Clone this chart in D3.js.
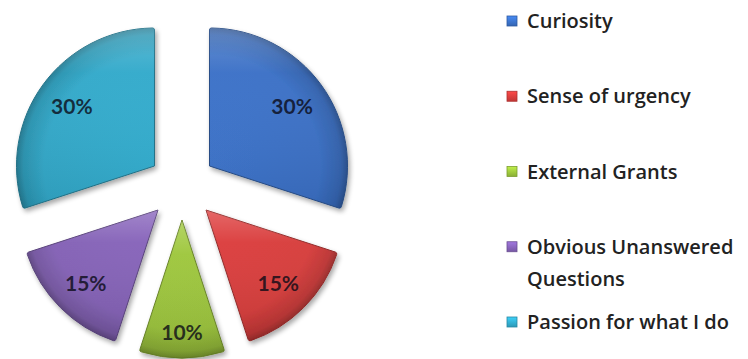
<!DOCTYPE html>
<html>
<head>
<meta charset="utf-8">
<script src="https://cdn.jsdelivr.net/npm/d3@7"></script>
<style>
  html, body { margin: 0; padding: 0; background: #ffffff; }
  svg { display: block; }
</style>
</head>
<body>
<svg id="chart" width="748" height="359"></svg>
<script>
// Share of answers per motivation (percent)
const categories = ["Curiosity", "Sense of urgency", "External Grants", "Obvious Unanswered Questions", "Passion for what I do"];
const values = [30, 15, 10, 15, 30];
const legendLines = [["Curiosity"], ["Sense of urgency"], ["External Grants"], ["Obvious Unanswered", "Questions"], ["Passion for what I do"]];
const baseColors = ["#3a70c6", "#d63c3b", "#9ac23b", "#8361b5", "#31a9ca"];

const svg = d3.select("#chart");

const cx = 182, cy = 186;       // pie centre
const radius = 138;
const explode = 34;            // every slice pulled out from the centre

const total = d3.sum(values);
const pct = d3.format(".0%");

const color = d3.scaleOrdinal().domain(categories).range(baseColors);

const defs = svg.append("defs");

// soft drop shadow under each slice
const shadow = defs.append("filter").attr("id", "shadow")
  .attr("x", "-20%").attr("y", "-20%").attr("width", "140%").attr("height", "140%");
shadow.append("feGaussianBlur").attr("in", "SourceAlpha").attr("stdDeviation", 2.5).attr("result", "blur");
shadow.append("feOffset").attr("in", "blur").attr("dx", 2).attr("dy", 3).attr("result", "off");
shadow.append("feComponentTransfer").attr("in", "off").attr("result", "sh")
  .append("feFuncA").attr("type", "linear").attr("slope", 0.35);
const merge = shadow.append("feMerge");
merge.append("feMergeNode").attr("in", "sh");
merge.append("feMergeNode").attr("in", "SourceGraphic");

// per-slice shading: flat body, darker rim, light top edge
categories.forEach((c, i) => {
  const base = d3.color(color(c));
  const rg = defs.append("radialGradient").attr("id", "fill" + i)
    .attr("gradientUnits", "userSpaceOnUse")
    .attr("cx", 0).attr("cy", 0).attr("r", radius);
  rg.append("stop").attr("offset", "0%").attr("stop-color", base.brighter(0.1).formatHex());
  rg.append("stop").attr("offset", "80%").attr("stop-color", base.formatHex());
  rg.append("stop").attr("offset", "95%").attr("stop-color", base.darker(0.35).formatHex());
  rg.append("stop").attr("offset", "100%").attr("stop-color", base.darker(0.9).formatHex());

  const lg = defs.append("linearGradient").attr("id", "gloss" + i)
    .attr("x1", 0).attr("y1", 0).attr("x2", 0).attr("y2", 1);
  lg.append("stop").attr("offset", "0%").attr("stop-color", "#ffffff").attr("stop-opacity", 0.22);
  lg.append("stop").attr("offset", "25%").attr("stop-color", "#ffffff").attr("stop-opacity", 0.03);
  lg.append("stop").attr("offset", "100%").attr("stop-color", "#000000").attr("stop-opacity", 0.08);

  const sq = defs.append("linearGradient").attr("id", "key" + i)
    .attr("x1", 0).attr("y1", 0).attr("x2", 0).attr("y2", 1);
  sq.append("stop").attr("offset", "0%").attr("stop-color", base.brighter(0.6).formatHex());
  sq.append("stop").attr("offset", "100%").attr("stop-color", base.darker(0.3).formatHex());
});

const pie = d3.pie().sort(null).value(d => d.value).startAngle(0).endAngle(2 * Math.PI);
const arcs = pie(categories.map((c, i) => ({ name: c, value: values[i], idx: i })));

const arc = d3.arc().innerRadius(0).outerRadius(radius).cornerRadius(2);

const g = svg.append("g").attr("transform", `translate(${cx},${cy})`);

const slices = g.selectAll("g.slice").data(arcs).join("g")
  .attr("class", "slice")
  .attr("transform", d => {
    const mid = (d.startAngle + d.endAngle) / 2;
    return `translate(${explode * Math.sin(mid)},${-explode * Math.cos(mid)})`;
  });

slices.append("path")
  .attr("d", arc)
  .attr("fill", d => `url(#fill${d.data.idx})`)
  .attr("stroke", d => d3.color(color(d.data.name)).darker(1.1).formatHex())
  .attr("stroke-width", 1)
  .attr("filter", "url(#shadow)");

slices.append("path")
  .attr("d", arc)
  .attr("fill", d => `url(#gloss${d.data.idx})`)
  .attr("stroke", "none");

// percentage labels inside the slices; narrow slices place them nearer the rim
slices.append("text")
  .attr("transform", d => {
    const mid = (d.startAngle + d.endAngle) / 2;
    const k = (d.endAngle - d.startAngle) < 0.7 ? 0.81 : 0.74;
    return `translate(${k * radius * Math.sin(mid)},${-k * radius * Math.cos(mid)})`;
  })
  .attr("text-anchor", "middle")
  .attr("dominant-baseline", "central")
  .attr("font-family", "Lato, 'Noto Sans', sans-serif")
  .attr("font-weight", 700)
  .attr("font-size", 21)
  .attr("fill", "#0a0a16")
  .attr("fill-opacity", 0.8)
  .text(d => pct(d.value / total));

// legend
const ly = d3.scalePoint().domain(categories).range([21, 322]);
const legend = svg.append("g").attr("class", "legend");
const items = legend.selectAll("g").data(categories).join("g")
  .attr("transform", d => `translate(507,${ly(d)})`);

items.append("rect")
  .attr("x", 0).attr("y", -5).attr("width", 10).attr("height", 10)
  .attr("fill", (d, i) => `url(#key${i})`)
  .attr("stroke", d => d3.color(color(d)).darker(0.6).formatHex())
  .attr("stroke-width", 0.8);

items.each(function (d, i) {
  const t = d3.select(this).append("text")
    .attr("x", 20)
    .attr("font-family", "'Open Sans', 'Noto Sans', sans-serif")
    .attr("font-weight", 600)
    .attr("font-size", 20)
    .attr("fill", "#222222");
  legendLines[i].forEach((line, j) => {
    t.append("tspan").attr("x", 20).attr("y", j * 32).attr("dy", "0.35em").text(line);
  });
});
</script>
</body>
</html>
